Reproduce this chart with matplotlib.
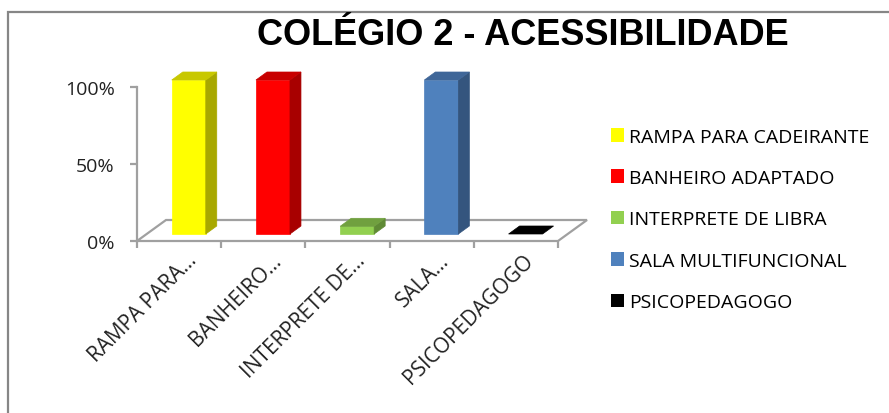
import matplotlib
matplotlib.use("Agg")
import matplotlib.pyplot as plt
from matplotlib.patches import Polygon, Rectangle, Patch
from matplotlib.transforms import ScaledTranslation

# data
categories = ["RAMPA PARA CADEIRANTE", "BANHEIRO ADAPTADO", "INTERPRETE DE LIBRA",
              "SALA MULTIFUNCIONAL", "PSICOPEDAGOGO"]
tick_labels = ["RAMPA PARA...", "BANHEIRO...", "INTERPRETE DE...", "SALA...", "PSICOPEDAGOGO"]
values = [100, 100, 5, 100, 0]
y_ticks = [0, 50, 100]
y_tick_labels = ["0%", "50%", "100%"]

front_colors = ["#FFFF00", "#FF0000", "#92D050", "#4F81BD", "#000000"]
side_colors = ["#A8A800", "#A80000", "#5F8A35", "#34557E", "#000000"]
top_colors = ["#C8C800", "#C80000", "#70A03F", "#3F6698", "#000000"]

W, H = 889, 414
label_font = "Open Sans"
label_size = 14
edge_gray = "#A0A0A0"

fig = plt.figure(figsize=(W / 100, H / 100), dpi=100)
fig.patch.set_facecolor("white")

# plot area: front floor edge spans x 137..558 px, 0% at 242 px, 100% at 88 px
ax = fig.add_axes([137 / W, 1 - 242 / H, (558 - 137) / W, (242 - 88) / H])
ax.set_xlim(-0.5, len(categories) - 0.5)
ax.set_ylim(0, 100)
ax.set_facecolor("none")

px_x = (len(categories)) / (558 - 137)   # data units per px horizontally
px_y = 100 / (242 - 88)                  # data units per px vertically

# floor depth vector (29 px right, 21 px up)
fdx, fdy = 29 * px_x, 21 * px_y
floor = Polygon([(-0.5, 0), (4.5, 0), (4.5 + fdx, fdy), (-0.5 + fdx, fdy)],
                closed=True, facecolor="white", edgecolor=edge_gray, lw=1.6,
                clip_on=False, zorder=1)
ax.add_patch(floor)

bar_w = 34 * px_x
shift_x, shift_y = fdx / 3, fdy / 3
ddx, ddy = 11 * px_x, 8 * px_y

for i, v in enumerate(values):
    x0 = i - bar_w / 2 + shift_x
    y0 = shift_y
    x1 = x0 + bar_w
    top = y0 + v
    if v > 0:
        ax.add_patch(Polygon([(x0, y0), (x1, y0), (x1, top), (x0, top)],
                             facecolor=front_colors[i], edgecolor=front_colors[i],
                             lw=0.5, clip_on=False, zorder=3))
        ax.add_patch(Polygon([(x1, y0), (x1 + ddx, y0 + ddy), (x1 + ddx, top + ddy), (x1, top)],
                             facecolor=side_colors[i], edgecolor=side_colors[i],
                             lw=0.5, clip_on=False, zorder=3))
    ax.add_patch(Polygon([(x0, top), (x1, top), (x1 + ddx, top + ddy), (x0 + ddx, top + ddy)],
                         facecolor=top_colors[i], edgecolor=top_colors[i],
                         lw=0.5, clip_on=False, zorder=3))

for s in ["top", "right", "bottom"]:
    ax.spines[s].set_visible(False)
ax.spines["left"].set_color(edge_gray)
ax.spines["left"].set_linewidth(1.6)

ax.set_yticks(y_ticks)
ax.set_yticklabels(y_tick_labels, fontfamily=label_font, fontsize=label_size, color="#222222")
ax.tick_params(axis="y", direction="out", length=5, width=1.6, color=edge_gray, pad=11)

ax.set_xticks([i - 0.5 for i in range(len(categories) + 1)], minor=True)
ax.set_xticks(range(len(categories)))
ax.set_xticklabels(tick_labels, rotation=45, ha="right", rotation_mode="anchor",
                   fontfamily=label_font, fontsize=15, color="#222222")
ax.tick_params(axis="x", which="major", length=0, pad=6)
ax.tick_params(axis="x", which="minor", direction="out", length=5, width=1.6, color=edge_gray)
offset = ScaledTranslation(7 / 100, 0, fig.dpi_scale_trans)
for lbl in ax.get_xticklabels():
    lbl.set_transform(lbl.get_transform() + offset)

fig.text(523 / W, 1 - 36 / H, "COLÉGIO 2 - ACESSIBILIDADE",
         fontfamily=["Liberation Sans Narrow", "Liberation Sans"], fontweight="bold",
         fontsize=26, ha="center", va="center", color="black")

handles = [Patch(facecolor=c, edgecolor="none") for c in front_colors]
fig.legend(handles, categories, loc="upper left", bbox_to_anchor=(603 / W, 1 - 121 / H),
           frameon=False, prop={"family": label_font, "size": label_size},
           handlelength=0.7, handleheight=0.7, handletextpad=0.25, labelspacing=1.2,
           borderaxespad=0)

# outer chart border (only top and left visible in the crop)
fig.add_artist(Rectangle((8 / W, -0.5), 1.5, 1 - 13 / H + 0.5, transform=fig.transFigure,
                         facecolor="none", edgecolor="#868686", lw=1.6))

fig.savefig("out.png", dpi=100)
